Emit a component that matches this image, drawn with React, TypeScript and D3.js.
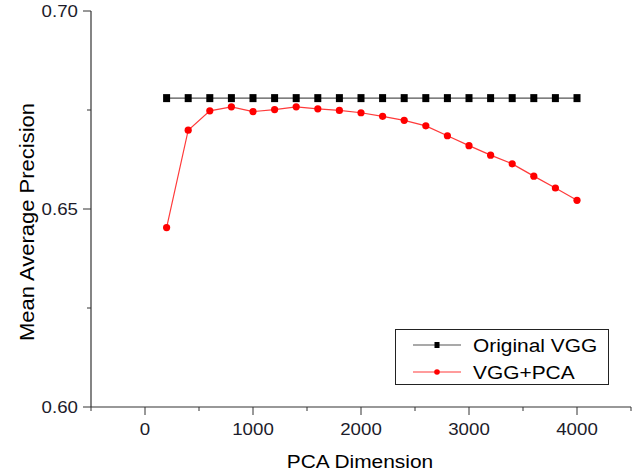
import React from 'react';
import * as d3 from 'd3';

const dims = [200, 400, 600, 800, 1000, 1200, 1400, 1600, 1800, 2000, 2200, 2400, 2600, 2800, 3000, 3200, 3400, 3600, 3800, 4000];
const originalVgg = [0.678, 0.678, 0.678, 0.678, 0.678, 0.678, 0.678, 0.678, 0.678, 0.678, 0.678, 0.678, 0.678, 0.678, 0.678, 0.678, 0.678, 0.678, 0.678, 0.678];
const vggPca = [0.6453, 0.6699, 0.6748, 0.6758, 0.6746, 0.6751, 0.6758, 0.6753, 0.6749, 0.6743, 0.6734, 0.6724, 0.671, 0.6685, 0.666, 0.6636, 0.6614, 0.6583, 0.6553, 0.6522];
const xMajor = [0, 1000, 2000, 3000, 4000];
const xMinor = [-500, 500, 1500, 2500, 3500, 4500];
const yMajor = [0.6, 0.65, 0.7];
const yMinor = [0.625, 0.675];
const seriesNames = ['Original VGG', 'VGG+PCA'];

const W = 641;
const H = 474;
const font = 'Arial, "Liberation Sans", sans-serif';

// text drawn a bit wider than the font's natural width, like the source image
function Label({x, y, size, anchor = 'start', fill = '#000', rotate = 0, children}: any) {
  return (
    <g transform={`translate(${x},${y}) rotate(${rotate}) scale(1.1,1)`}>
      <text x={0} y={0} textAnchor={anchor} fontFamily={font} fontSize={size} fill={fill}>{children}</text>
    </g>
  );
}

export default function App() {
  const x = d3.scaleLinear().domain([-500, 4500]).range([91, 631]);
  const y = d3.scaleLinear().domain([0.6, 0.7]).range([407, 11]);

  const line = d3.line<number>()
    .x((d, i) => x(dims[i]))
    .y(d => y(d));

  const axisColor = '#333';
  const textColor = '#1c1c2a';

  return (
    <svg width={W} height={H} style={{position: 'absolute', left: 0, top: 0, background: '#fff'}}>
      {/* axes */}
      <line x1={x(-500)} x2={x(4500)} y1={y(0.6)} y2={y(0.6)} stroke={axisColor} strokeWidth={1.2} />
      <line x1={x(-500)} x2={x(-500)} y1={y(0.6)} y2={y(0.7)} stroke={axisColor} strokeWidth={1.2} />

      {xMajor.map((t, i) => (
        <g key={'xm' + i}>
          <line x1={x(t)} x2={x(t)} y1={y(0.6)} y2={y(0.6) + 8} stroke={axisColor} />
          <Label x={x(t)} y={435} size={17} anchor="middle" fill={textColor}>{t}</Label>
        </g>
      ))}
      {xMinor.map((t, i) => (
        <line key={'xn' + i} x1={x(t)} x2={x(t)} y1={y(0.6)} y2={y(0.6) + 4} stroke={axisColor} />
      ))}

      {yMajor.map((t, i) => (
        <g key={'ym' + i}>
          <line x1={x(-500) - 8} x2={x(-500)} y1={y(t)} y2={y(t)} stroke={axisColor} />
          <Label x={78} y={y(t) + 6} size={17} anchor="end" fill={textColor}>{t.toFixed(2)}</Label>
        </g>
      ))}
      {yMinor.map((t, i) => (
        <line key={'yn' + i} x1={x(-500) - 4} x2={x(-500)} y1={y(t)} y2={y(t)} stroke={axisColor} />
      ))}

      <Label x={360} y={468} size={19} anchor="middle">PCA Dimension</Label>
      <Label x={34} y={222} size={20} anchor="middle" rotate={-90}>Mean Average Precision</Label>

      {/* series */}
      <path d={line(originalVgg) || ''} fill="none" stroke="#555" strokeWidth={1.2} />
      {originalVgg.map((v, i) => (
        <rect key={'s' + i} x={x(dims[i]) - 3.5} y={y(v) - 4} width={7} height={8} fill="#000" />
      ))}
      <path d={line(vggPca) || ''} fill="none" stroke="#ff3a3a" strokeWidth={1.2} />
      {vggPca.map((v, i) => (
        <circle key={'c' + i} cx={x(dims[i])} cy={y(v)} r={3.6} fill="#ff0000" />
      ))}

      {/* legend */}
      <rect x={395.5} y={329.5} width={213} height={55} fill="#fff" stroke="#222" strokeWidth={1} />
      {seriesNames.map((name, i) => {
        const ly = 345 + i * 27;
        const color = i === 0 ? '#555' : '#ff3a3a';
        return (
          <g key={'l' + i}>
            <line x1={413} x2={461} y1={ly} y2={ly} stroke={color} strokeWidth={1.2} />
            {i === 0
              ? <rect x={434.5} y={ly - 3} width={5} height={6} fill="#000" />
              : <circle cx={437} cy={ly} r={2.8} fill="#ff0000" />}
            <Label x={473} y={ly + 7} size={19}>{name}</Label>
          </g>
        );
      })}
    </svg>
  );
}
